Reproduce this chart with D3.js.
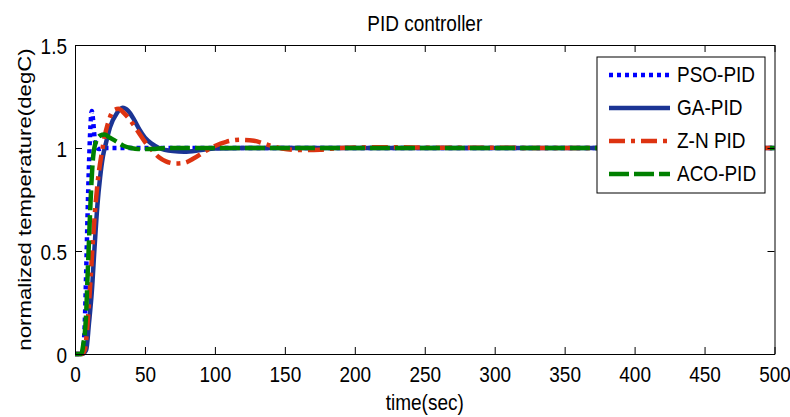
<!DOCTYPE html>
<html>
<head>
<meta charset="utf-8">
<script src="https://cdn.jsdelivr.net/npm/d3@7"></script>
<style>
  body { margin: 0; background: #fff; }
  text { font-family: "Liberation Sans", Arial, sans-serif; font-size: 19px; fill: #000; }
</style>
</head>
<body>
<div id="my_dataviz"></div>
<script>
// step responses (time in sec, normalized temperature)
var tPSO = [0, 5, 6, 7, 8, 9, 10, 11, 12, 13, 14, 15, 17, 20, 30, 60, 150, 300, 500];
var vPSO = [0, 0, 0.03, 0.15, 0.4, 0.68, 0.92, 1.1, 1.18, 1.13, 1.05, 1.01, 0.995, 1.0, 1.0, 1.0, 1.0, 1.0, 1.0];

var tGA = [0, 5, 8, 10, 12, 14, 16, 18, 20, 22, 25, 30, 34, 38, 42, 46, 50, 55, 60, 70, 78, 90, 100, 120, 200, 500];
var vGA = [0, 0, 0.02, 0.15, 0.3, 0.52, 0.72, 0.86, 0.96, 1.02, 1.1, 1.17, 1.195, 1.18, 1.14, 1.09, 1.05, 1.02, 1.0, 0.985, 0.982, 0.99, 0.998, 1.0, 1.0, 1.0];

var tZN = [0, 5, 7, 9, 11, 13, 15, 17, 19, 21, 24, 28, 31, 35, 40, 45, 50, 55, 60, 65, 72, 78, 85, 92, 100, 108, 118, 128, 138, 148, 160, 175, 190, 220, 260, 500];
var vZN = [0, 0, 0.02, 0.15, 0.35, 0.57, 0.75, 0.88, 0.97, 1.05, 1.13, 1.185, 1.19, 1.17, 1.13, 1.08, 1.03, 0.99, 0.955, 0.935, 0.925, 0.928, 0.95, 0.98, 1.01, 1.03, 1.04, 1.035, 1.015, 0.998, 0.99, 0.992, 1.0, 1.004, 1.001, 1.0];

var tACO = [0, 4, 5, 6, 7, 8, 9, 10, 11, 12, 13, 15, 18, 21, 25, 30, 35, 40, 45, 55, 65, 150, 500];
var vACO = [0, 0, 0.01, 0.05, 0.1, 0.2, 0.38, 0.55, 0.72, 0.86, 0.96, 1.03, 1.06, 1.065, 1.05, 1.03, 1.01, 1.0, 0.995, 0.995, 1.0, 1.0, 1.0];

var seriesNames = ["PSO-PID", "GA-PID", "Z-N PID", "ACO-PID"];
var xTicks = [0, 50, 100, 150, 200, 250, 300, 350, 400, 450, 500];
var yTicks = [0, 0.5, 1, 1.5];

var series = [
  {name: seriesNames[0], t: tPSO, v: vPSO, color: "#0000ff", dash: "4,4", width: 4.5},
  {name: seriesNames[1], t: tGA, v: vGA, color: "#1b3494", dash: null, width: 4.5},
  {name: seriesNames[2], t: tZN, v: vZN, color: "#dd3311", dash: "16,6,4,6", width: 4.5},
  {name: seriesNames[3], t: tACO, v: vACO, color: "#008000", dash: "20,5", width: 4.5}
];

var W = 790, H = 417;
var plotL = 75, plotR = 774.5, plotT = 45, plotB = 354;
var sy = 1.17; // text in the picture is a bit taller than wide

var svg = d3.select("#my_dataviz")
  .append("svg")
    .attr("width", W)
    .attr("height", H);

svg.append("rect").attr("width", W).attr("height", H).attr("fill", "#fff");

var x = d3.scaleLinear().domain([0, 500]).range([plotL, plotR]);
var y = d3.scaleLinear().domain([0, 1.5]).range([plotB, plotT]);

// curves
var line = d3.line()
  .x(function(d) { return x(d[0]); })
  .y(function(d) { return y(d[1]); })
  .curve(d3.curveMonotoneX);

series.forEach(function(s) {
  var pts = s.t.map(function(t, i) { return [t, s.v[i]]; });
  svg.append("path")
    .datum(pts)
    .attr("fill", "none")
    .attr("stroke", s.color)
    .attr("stroke-width", s.width)
    .attr("stroke-dasharray", s.dash)
    .attr("d", line);
});

// axes, ticks pointing inward on all four sides
var xAxis = svg.append("g")
  .attr("transform", "translate(0," + plotB + ")")
  .call(d3.axisBottom(x).tickValues(xTicks).tickSize(-7).tickSizeOuter(0));
xAxis.selectAll("text")
  .attr("y", null).attr("dy", null)
  .attr("transform", "translate(0,28) scale(1," + sy + ")");

svg.append("g")
  .attr("transform", "translate(0," + plotT + ")")
  .call(d3.axisTop(x).tickValues(xTicks).tickSize(-7).tickSizeOuter(0).tickFormat(""));

var yAxis = svg.append("g")
  .attr("transform", "translate(" + plotL + ",0)")
  .call(d3.axisLeft(y).tickValues(yTicks).tickSize(-7).tickSizeOuter(0).tickFormat(d3.format("")));
yAxis.selectAll("text")
  .attr("x", null).attr("dy", null)
  .attr("transform", "translate(-8,8) scale(1," + sy + ")");

svg.append("g")
  .attr("transform", "translate(" + plotR + ",0)")
  .call(d3.axisRight(y).tickValues(yTicks).tickSize(-7).tickSizeOuter(0).tickFormat(""));

svg.selectAll(".domain, .tick line").attr("stroke", "#000").attr("stroke-width", 1);
svg.selectAll(".tick text").style("font-size", "19px").style("font-family", "'Liberation Sans', Arial, sans-serif").attr("fill", "#000");

// title and axis labels
svg.append("text")
  .attr("text-anchor", "middle")
  .attr("transform", "translate(" + ((plotL + plotR) / 2) + ",31) scale(1," + sy + ")")
  .text("PID controller");

svg.append("text")
  .attr("text-anchor", "middle")
  .attr("transform", "translate(" + ((plotL + plotR) / 2) + ",410) scale(1," + sy + ")")
  .text("time(sec)");

svg.append("text")
  .attr("text-anchor", "middle")
  .attr("transform", "translate(31," + ((plotT + plotB) / 2) + ") scale(1," + sy + ") rotate(-90)")
  .text("normalized temperature(degC)");

// legend
var lgX = 597, lgY = 57;
svg.append("rect")
  .attr("x", lgX).attr("y", lgY)
  .attr("width", 168).attr("height", 136)
  .attr("fill", "#fff").attr("stroke", "#000").attr("stroke-width", 1);

var lg = svg.selectAll("g.lg")
  .data(series)
  .enter()
  .append("g")
    .attr("class", "lg")
    .attr("transform", function(d, i) { return "translate(" + lgX + "," + (lgY + 18 + i * 33) + ")"; });

lg.append("line")
  .attr("x1", 12).attr("x2", 73)
  .attr("stroke", function(d) { return d.color; })
  .attr("stroke-width", function(d) { return d.width; })
  .attr("stroke-dasharray", function(d) { return d.dash; });

lg.append("text")
  .attr("transform", "translate(80,7) scale(1," + sy + ")")
  .text(function(d) { return d.name; });
</script>
</body>
</html>
